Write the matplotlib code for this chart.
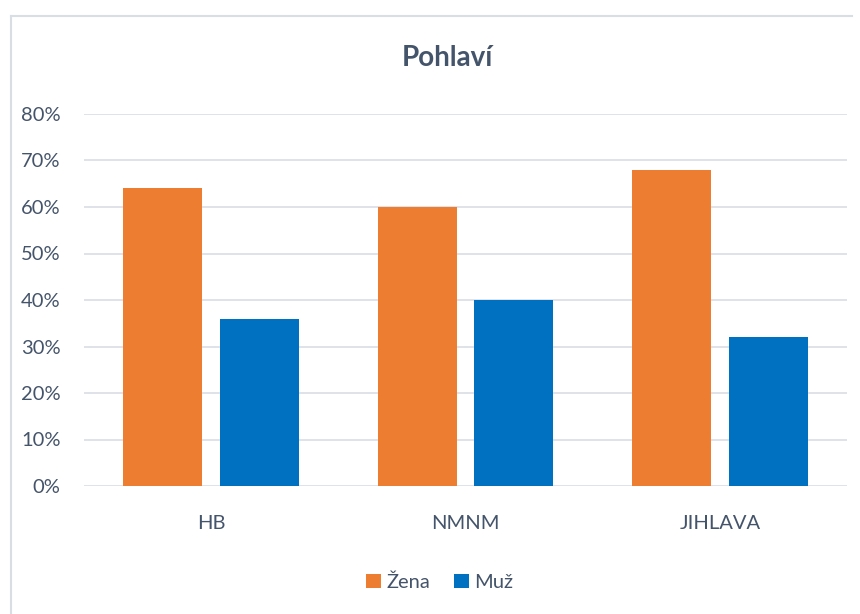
import numpy as np
import matplotlib.pyplot as plt
from matplotlib.lines import Line2D

plt.rcParams['font.family'] = ['Lato', 'DejaVu Sans']

categories = ['HB', 'NMNM', 'JIHLAVA']
zena = [0.64, 0.60, 0.68]
muz = [0.36, 0.40, 0.32]

text_color = '#44546A'
grid_color = '#D9DEE5'

fig = plt.figure(figsize=(8.6, 6.14), dpi=100)
ax = fig.add_axes([84/860, 1-486/614, (847-84)/860, (486-114)/614])

x = np.arange(len(categories))
w = 0.31
gap = 0.07
ax.bar(x - (w + gap)/2, zena, w, color='#ED7D31', label='Žena', zorder=3)
ax.bar(x + (w + gap)/2, muz, w, color='#0070C0', label='Muž', zorder=3)

ax.set_xlim(-0.5, len(categories) - 0.5)
ax.set_ylim(0, 0.8)
ax.set_yticks(np.arange(0, 0.81, 0.1))
ax.set_yticklabels([f'{int(round(v*100))}%' for v in np.arange(0, 0.81, 0.1)])
ax.set_xticks(x)
ax.set_xticklabels(categories)
ax.tick_params(axis='both', length=0, labelsize=14.5, colors=text_color)
ax.tick_params(axis='y', pad=17)
ax.tick_params(axis='x', pad=21)
ax.grid(axis='y', color=grid_color, linewidth=1.2, zorder=0)
for s in ax.spines.values():
    s.set_visible(False)

fig.text(447/860, 1-58/614, 'Pohlaví', ha='center', va='center',
         fontsize=20, fontweight='bold', color=text_color)

ax.legend(loc='center', bbox_to_anchor=(440/860, 1-582/614), bbox_transform=fig.transFigure,
          ncol=2, frameon=False, fontsize=14.5, labelcolor=text_color,
          handlelength=0.7, handleheight=0.7, handletextpad=0.3, columnspacing=1.2)

# chart border
fig.add_artist(Line2D([11/860, 11/860], [0, 1-16/614], color=grid_color, linewidth=1.5))
fig.add_artist(Line2D([11/860, 852/860], [1-16/614, 1-16/614], color=grid_color, linewidth=1.5))

fig.savefig('out.png', dpi=100)
